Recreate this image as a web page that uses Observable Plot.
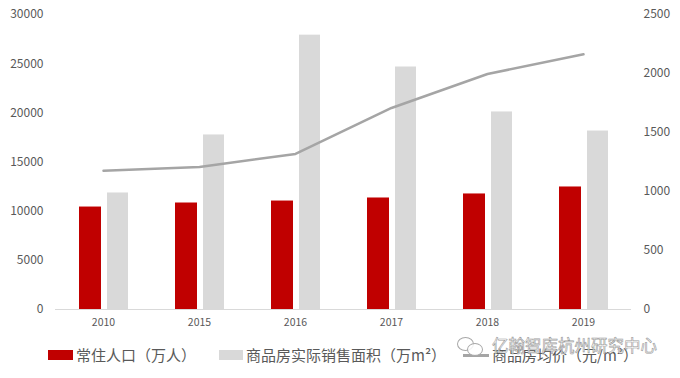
<!DOCTYPE html>
<html><head><meta charset="utf-8">
<script src="https://cdn.jsdelivr.net/npm/d3@7"></script>
<script src="https://cdn.jsdelivr.net/npm/@observablehq/plot@0.6"></script>
<style>
body{margin:0;background:#fff;font-family:"Noto Sans CJK SC","Noto Sans",sans-serif;}
#wrap{position:relative;width:680px;height:378px;overflow:hidden;}
#chart svg{display:block;}
.lg{position:absolute;font-size:15px;color:#595959;line-height:15px;white-space:nowrap;}
.sw{position:absolute;}
#wm{position:absolute;left:492px;top:337px;font-size:16.5px;line-height:17px;color:rgba(255,255,255,0.85);-webkit-text-stroke:0.6px #9a9a9a;white-space:nowrap;}
.ic{position:absolute;border:1.2px solid #a8a8a8;border-radius:50%;background:rgba(255,255,255,0.85);}
</style>
</head><body>
<div id="wrap">
<div id="chart"></div>
<div class="sw" style="left:48px;top:350px;width:25px;height:10px;background:#c00000"></div>
<div class="lg" style="left:76px;top:347px">常住人口（万人）</div>
<div class="sw" style="left:219px;top:350px;width:24px;height:10px;background:#d9d9d9"></div>
<div class="lg" style="left:246px;top:347px">商品房实际销售面积（万m²）</div>
<div class="sw" style="left:463px;top:354px;width:26px;height:2.5px;background:#a5a5a5"></div>
<div class="lg" style="left:492px;top:347px">商品房均价（元/m²）</div>
<div class="ic" style="left:457px;top:337px;width:15px;height:12px"></div>
<div class="ic" style="left:467px;top:343px;width:14px;height:11px"></div>
<div id="wm">亿翰智库杭州研究中心</div>
</div>
<script>
const years = ["2010", "2015", "2016", "2017", "2018", "2019"];
const population = [10420, 10830, 11030, 11340, 11750, 12460];
const salesArea = [11850, 17750, 27900, 24660, 20090, 18150];
const avgPrice = [1176, 1208, 1318, 1708, 1996, 2163];
const leftTicks = [0, 5000, 10000, 15000, 20000, 25000, 30000];
const rightTicks = [0, 500, 1000, 1500, 2000, 2500];
const ratio = 30000 / 2500;

const data = years.map((year, i) => ({year, population: population[i], area: salesArea[i], price: avgPrice[i]}));

const plot = Plot.plot({
  width: 680,
  height: 335,
  marginTop: 14,
  marginBottom: 26,
  marginLeft: 55,
  marginRight: 49,
  style: {fontFamily: "'Noto Sans CJK SC', 'Noto Sans', sans-serif", fontSize: "12px", color: "#595959", background: "#fff"},
  x: {type: "band", domain: years, padding: 0, label: null},
  y: {domain: [0, 30000], label: null},
  marks: [
    Plot.barY(data, {x: "year", y: "population", fill: "#c00000", insetLeft: 24, insetRight: 50}),
    Plot.barY(data, {x: "year", y: "area", fill: "#d9d9d9", insetLeft: 52, insetRight: 23}),
    Plot.ruleY([0], {stroke: "#d9d9d9", strokeWidth: 1}),
    Plot.line(data, {x: "year", y: d => d.price * ratio, stroke: "#a5a5a5", strokeWidth: 2.5}),
    Plot.axisX({tickSize: 0, tickPadding: 9, fontSize: 10.5, label: null}),
    Plot.axisY(leftTicks, {anchor: "left", tickSize: 0, tickPadding: 12, tickFormat: d => String(d), label: null}),
    Plot.axisY(rightTicks.map(v => v * ratio), {anchor: "right", tickSize: 0, tickPadding: 12, tickFormat: d => String(d / ratio), label: null})
  ]
});
document.getElementById("chart").appendChild(plot);
</script>
</body></html>
